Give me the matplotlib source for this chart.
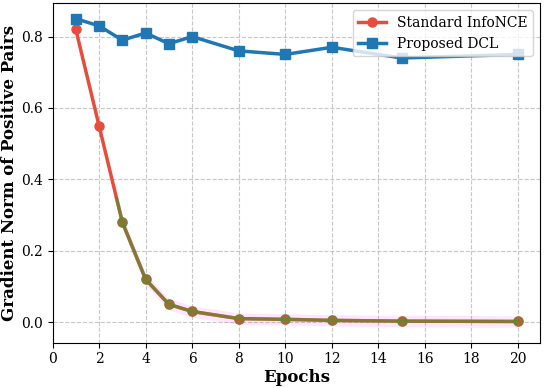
import matplotlib
matplotlib.use('Agg')
import matplotlib.pyplot as plt
from matplotlib.patches import Rectangle

plt.rcParams['font.family'] = 'DejaVu Serif'

# ---------------------------------------------------------------------------
# Data
# ---------------------------------------------------------------------------
epochs       = [1, 2, 3, 4, 5, 6, 8, 10, 12, 15, 20]
grad_infonce = [0.82, 0.55, 0.28, 0.12, 0.05, 0.03, 0.01, 0.008, 0.005, 0.003, 0.002]
grad_dcl     = [0.85, 0.83, 0.79, 0.81, 0.78, 0.80, 0.76, 0.75, 0.77, 0.74, 0.75]
collapse_lvl = 0.35   # below this the InfoNCE curve is highlighted

fig, ax = plt.subplots(figsize=(5.5, 3.88), dpi=100)

ax.plot(epochs, grad_infonce, color='#e74c3c', marker='o', lw=2.5, ms=6.5,
        label='Standard InfoNCE', zorder=3)
ax.plot(epochs, grad_dcl, color='#1f77b4', marker='s', lw=2.5, ms=6.5,
        label='Proposed DCL', zorder=3)

# highlight of the collapsed region (clipped below collapse_lvl)
band = ax.fill_between(epochs, [v - 0.016 for v in grad_infonce],
                       [v + 0.016 for v in grad_infonce],
                       color='magenta', alpha=0.1, lw=0, zorder=2)
green = (0.17, 0.63, 0.17)
over, = ax.plot(epochs, grad_infonce, color=green + (0.5,), marker='o', lw=2.5, ms=6.5,
                mfc=green + (0.22,), mec=green + (0.55,), zorder=4)
clip = Rectangle((0, -1), 30, 1 + collapse_lvl, transform=ax.transData)
over.set_clip_path(clip)
band.set_clip_path(clip)

ax.set_xlim(left=0)
ax.set_xticks(range(0, 21, 2))
ax.set_yticks([0.0, 0.2, 0.4, 0.6, 0.8])
ax.tick_params(labelsize=10)
ax.grid(True, ls='--', color='#b0b0b0', alpha=0.7)
ax.set_xlabel('Epochs', fontsize=12, fontweight='bold', labelpad=2)
ax.set_ylabel('Gradient Norm of Positive Pairs', fontsize=12, fontweight='bold', labelpad=2)
ax.legend(loc='upper right', fontsize=10)

fig.subplots_adjust(left=0.0955, right=0.982, top=0.9915, bottom=0.117)
fig.savefig('out.png', dpi=100)
